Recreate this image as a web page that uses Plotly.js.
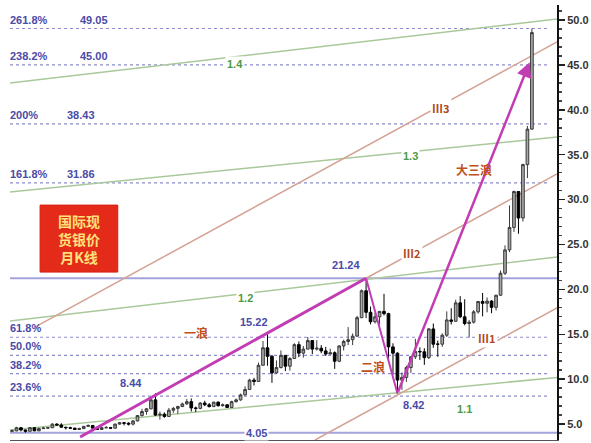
<!DOCTYPE html>
<html><head><meta charset="utf-8">
<script src="https://cdn.plot.ly/plotly-3.0.1.min.js"></script>
<style>html,body{margin:0;padding:0;background:#fff}#c{width:591px;height:443px}</style>
</head><body><div id="c"></div>
<script>
// Monthly candles (2001-08 .. 2011-04)
const months = ['2001-08','2001-09','2001-10','2001-11','2001-12',
'2002-01','2002-02','2002-03','2002-04','2002-05','2002-06','2002-07','2002-08','2002-09','2002-10','2002-11','2002-12',
'2003-01','2003-02','2003-03','2003-04','2003-05','2003-06','2003-07','2003-08','2003-09','2003-10','2003-11','2003-12',
'2004-01','2004-02','2004-03','2004-04','2004-05','2004-06','2004-07','2004-08','2004-09','2004-10','2004-11','2004-12',
'2005-01','2005-02','2005-03','2005-04','2005-05','2005-06','2005-07','2005-08','2005-09','2005-10','2005-11','2005-12',
'2006-01','2006-02','2006-03','2006-04','2006-05','2006-06','2006-07','2006-08','2006-09','2006-10','2006-11','2006-12',
'2007-01','2007-02','2007-03','2007-04','2007-05','2007-06','2007-07','2007-08','2007-09','2007-10','2007-11','2007-12',
'2008-01','2008-02','2008-03','2008-04','2008-05','2008-06','2008-07','2008-08','2008-09','2008-10','2008-11','2008-12',
'2009-01','2009-02','2009-03','2009-04','2009-05','2009-06','2009-07','2009-08','2009-09','2009-10','2009-11','2009-12',
'2010-01','2010-02','2010-03','2010-04','2010-05','2010-06','2010-07','2010-08','2010-09','2010-10','2010-11','2010-12',
'2011-01','2011-02','2011-03','2011-04'];
const openP = [4.20,4.25,4.60,4.35,4.20,
4.60,4.25,4.50,4.55,4.60,5.00,4.90,4.65,4.60,4.55,4.40,4.50,
4.75,4.85,4.55,4.40,4.60,4.60,4.55,5.00,5.15,5.10,5.00,5.35,
5.95,6.40,6.70,7.70,6.00,6.10,5.85,6.55,6.75,6.95,7.25,7.50,
6.80,6.75,7.35,7.15,6.95,7.45,7.05,7.15,6.85,7.50,7.70,8.25,
8.85,9.90,9.75,11.55,13.50,12.55,10.70,11.30,12.65,11.45,12.30,13.85,
12.90,13.35,14.30,13.35,13.45,13.15,12.80,12.95,12.00,13.70,14.20,14.40,
14.80,16.85,19.85,17.45,16.40,16.95,17.55,17.30,13.60,12.90,9.90,10.20,
11.30,12.50,13.10,13.05,12.40,15.60,13.90,13.90,14.90,16.60,16.45,18.50,
16.95,16.20,16.35,17.50,18.65,18.45,18.70,18.00,19.35,21.80,24.40,26.90,
30.90,27.95,33.90,37.85];
const highP = [4.40,4.70,4.65,4.40,4.65,
4.62,4.60,4.70,4.66,5.10,5.10,5.10,4.70,4.70,4.60,4.60,4.80,
4.95,4.90,4.65,4.75,4.80,4.65,5.05,5.25,5.25,5.20,5.45,5.95,
6.70,6.80,7.80,8.44,6.40,6.30,6.80,6.90,7.05,7.40,7.80,7.85,
6.95,7.45,7.60,7.35,7.45,7.50,7.30,7.20,7.60,7.85,8.40,9.20,
10.05,10.15,11.85,14.25,15.22,12.70,12.10,13.20,12.70,12.45,14.00,14.20,
13.70,14.70,14.35,14.35,13.80,13.60,13.40,13.10,13.80,14.40,15.80,15.10,
17.05,20.00,21.24,18.10,17.40,17.60,19.50,17.40,14.00,13.00,10.75,11.50,
12.50,14.50,13.55,13.45,15.70,16.20,14.30,15.10,17.55,17.90,18.85,19.25,
18.90,16.60,17.70,18.70,19.60,19.10,18.80,19.40,22.10,24.90,29.35,31.00,
30.90,34.00,38.20,49.05];
const lowP = [4.15,4.20,4.20,4.05,4.20,
4.22,4.20,4.45,4.50,4.55,4.85,4.60,4.40,4.45,4.35,4.35,4.45,
4.70,4.50,4.35,4.40,4.55,4.45,4.50,4.95,4.85,4.85,4.85,5.30,
5.85,6.05,6.65,5.90,5.50,5.70,5.80,6.25,6.15,6.90,7.15,6.40,
6.35,6.65,7.00,6.85,6.90,6.95,6.95,6.80,6.85,7.40,7.60,8.20,
8.80,9.30,9.70,11.50,11.50,9.60,10.60,11.20,10.90,10.95,12.25,12.45,
12.40,13.30,12.80,13.20,12.90,12.60,12.75,11.15,11.90,13.20,13.80,13.80,
14.70,16.80,16.80,16.10,16.20,16.10,17.10,12.20,10.50,8.42,8.80,9.70,
10.70,12.25,12.15,11.60,12.25,13.50,12.50,13.60,14.70,16.10,16.40,16.80,
16.00,14.65,16.20,17.30,17.00,17.45,17.35,17.65,19.30,21.60,24.15,26.40,
26.20,27.55,32.40,37.75];
const closeP = [4.25,4.60,4.35,4.20,4.60,
4.25,4.50,4.55,4.60,5.00,4.90,4.65,4.60,4.55,4.40,4.50,4.75,
4.85,4.55,4.40,4.60,4.60,4.55,5.00,5.15,5.10,5.00,5.35,5.95,
6.40,6.70,7.70,6.00,6.10,5.85,6.55,6.75,6.95,7.25,7.50,6.80,
6.75,7.35,7.15,6.95,7.45,7.05,7.15,6.85,7.50,7.70,8.25,8.85,
9.90,9.75,11.55,13.50,12.55,10.70,11.30,12.65,11.45,12.30,13.85,12.90,
13.35,14.30,13.35,13.45,13.15,12.80,12.95,12.00,13.70,14.20,14.40,14.80,
16.85,19.85,17.45,16.40,16.95,17.55,17.30,13.60,12.90,9.90,10.20,11.30,
12.50,13.10,13.05,12.40,15.60,13.90,13.90,14.90,16.60,16.45,18.50,16.95,
16.20,16.35,17.50,18.65,18.45,18.70,18.00,19.35,21.80,24.40,26.90,30.90,
27.95,33.90,37.85,48.60];

// Fibonacci levels
const waveLow = 4.05, waveHigh = 21.24;
const fibRatios = [2.618, 2.382, 2.0, 1.618, 0.618, 0.5, 0.382, 0.236];
const fibLabels = ['261.8%', '238.2%', '200%', '161.8%', '61.8%', '50.0%', '38.2%', '23.6%'];
const fibValueText = ['49.05', '45.00', '38.43', '31.86', '', '', '', ''];
const yTicks = [5, 10, 15, 20, 25, 30, 35, 40, 45, 50];
const yTickText = ['5.0','10.0','15.0','20.0','25.0','30.0','35.0','40.0','45.0','50.0'];

// channel lines [x0, y0, x1, y1] in data units
const greenLines = [[-0.45, 4.34, 121.6, 10.2], [-0.45, 16.48, 121.6, 23.6], [-0.45, 30.85, 121.6, 36.97], [-0.45, 42.98, 121.6, 50.1]];
const greenNames = ['1.1', '1.2', '1.3', '1.4'];
const greenLabelPos = [[101, 6.7], [52, 19.0], [89, 34.9], [49.8, 45.1]];
const brownLines = [[67.6, 3.23, 121.6, 17.93], [79, 21.24, 121.6, 32.85], [5.1, 15.8, 121.6, 47.55]];
const brownNames = ['Ⅲ1', 'Ⅲ2', 'Ⅲ3'];
const brownLabelPos = [[106, 14.6], [89.2, 24.0], [95.7, 40.2]];

const xIdx = months.map((m, i) => i);
const XR = [-0.45, 121.6];

const trace = {
  type: 'candlestick', x: xIdx, open: openP, high: highP, low: lowP, close: closeP,
  increasing: {line: {color: '#3a3a3a', width: 1}, fillcolor: '#a8a8a8'},
  decreasing: {line: {color: '#000000', width: 1}, fillcolor: '#000000'},
  whiskerwidth: 0, hoverinfo: 'skip', showlegend: false
};

const shapes = [];
const annotations = [];
const blue = '#4a4aa8';
const lblFont = {family: 'Liberation Sans, Arial', size: 11, color: blue, weight: 'bold'};

fibRatios.forEach((r, i) => {
  const lv = waveLow + r * (waveHigh - waveLow);
  shapes.push({type: 'line', xref: 'paper', x0: 0, x1: 0.985, yref: 'y', y0: lv, y1: lv,
    line: {color: '#8c8cd0', width: 1.2, dash: 'dot'}, layer: 'below'});
  annotations.push({xref: 'paper', yref: 'y', x: 0, y: lv, xanchor: 'left', yanchor: 'bottom',
    yshift: 1, xshift: -2, text: fibLabels[i], showarrow: false, font: lblFont});
  if (fibValueText[i]) {
    annotations.push({xref: 'paper', yref: 'y', x: i < 2 ? 0.124 : 0.1, y: lv, xanchor: 'left', yanchor: 'bottom',
      yshift: 1, text: fibValueText[i], showarrow: false, font: lblFont});
  }
});
[waveHigh, waveLow].forEach(v => {
  shapes.push({type: 'line', xref: 'paper', x0: 0, x1: 1, yref: 'y', y0: v, y1: v,
    line: {color: '#a4a4dc', width: 2}, layer: 'below'});
});

greenLines.forEach((l, i) => {
  shapes.push({type: 'line', x0: l[0], y0: l[1], x1: l[2], y1: l[3], line: {color: '#a9c99a', width: 1.5}, layer: 'below'});
  annotations.push({x: greenLabelPos[i][0], y: greenLabelPos[i][1], text: greenNames[i], showarrow: false,
    bgcolor: '#ffffff', font: {family: 'Liberation Sans, Arial', size: 11, color: '#4f9a45', weight: 'bold'}});
});
brownLines.forEach((l, i) => {
  shapes.push({type: 'line', x0: l[0], y0: l[1], x1: l[2], y1: l[3], line: {color: '#d4a292', width: 1.5}, layer: 'below'});
  annotations.push({x: brownLabelPos[i][0], y: brownLabelPos[i][1], text: brownNames[i], showarrow: false,
    bgcolor: '#ffffff', font: {family: 'Noto Sans CJK SC', size: 11, color: '#b04a1c', weight: 'bold'}});
});

// wave lines
const magenta = '#c23cb4';
shapes.push({type: 'line', x0: 15.2, y0: 3.56, x1: 79, y1: waveHigh, line: {color: magenta, width: 3}});
shapes.push({type: 'line', x0: 79, y0: waveHigh, x1: 86, y1: 8.42, line: {color: magenta, width: 2}});
annotations.push({x: 115.5, y: 45.3, ax: 86, ay: 8.42, axref: 'x', ayref: 'y', xref: 'x', yref: 'y', text: '',
  showarrow: true, arrowhead: 2, arrowsize: 1.2, arrowwidth: 2.5, arrowcolor: magenta});

const waveFont = {family: 'Noto Sans CJK SC', size: 12, color: '#c0501c', weight: 'bold'};
annotations.push({x: 41, y: 15.2, text: '一浪', showarrow: false, font: waveFont});
annotations.push({x: 80.6, y: 11.4, text: '二浪', showarrow: false, font: waveFont});
annotations.push({x: 103, y: 33.4, text: '大三浪', showarrow: false, font: waveFont});

const numFont = {family: 'Liberation Sans, Arial', size: 11, color: blue, weight: 'bold'};
annotations.push({x: 26.5, y: 8.44, text: '8.44', showarrow: false, yshift: 10, font: numFont});
annotations.push({x: 54, y: 15.22, text: '15.22', showarrow: false, yshift: 10, font: numFont});
annotations.push({x: 74.5, y: 21.24, text: '21.24', showarrow: false, yshift: 13, font: numFont});
annotations.push({x: 89.5, y: 8.42, text: '8.42', showarrow: false, yshift: -12, font: numFont});
annotations.push({x: 54.6, y: waveLow, text: '4.05', showarrow: false, bgcolor: '#ffffff', font: numFont});

// red title box
shapes.push({type: 'rect', xref: 'paper', yref: 'paper', x0: 0.055, x1: 0.197, y0: 0.386, y1: 0.54,
  fillcolor: '#e42a18', line: {color: '#d42010', width: 1}});
annotations.push({xref: 'paper', yref: 'paper', x: 0.126, y: 0.463, xanchor: 'center', yanchor: 'middle',
  text: '国际现<br>货银价<br>月K线', showarrow: false, align: 'center',
  font: {family: 'Noto Sans CJK SC', size: 14, color: '#ffe27a', weight: 'bold'}});

const layout = {
  width: 591, height: 443, margin: {l: 10, r: 34, t: 5, b: 3},
  paper_bgcolor: '#ffffff', plot_bgcolor: '#ffffff', showlegend: false, boxgap: 0.15,
  xaxis: {range: XR, showticklabels: false, showgrid: false, zeroline: false, rangeslider: {visible: false},
    showline: true, linecolor: '#555555', linewidth: 1, mirror: false, fixedrange: true},
  yaxis: {range: [3.23, 51.67], side: 'right', tickvals: yTicks, ticktext: yTickText, ticks: 'outside',
    ticklen: 6, tickwidth: 1.5, tickcolor: '#222', showline: true, linecolor: '#111', linewidth: 2,
    showgrid: false, zeroline: false,
    minor: {dtick: 1, ticks: 'outside', ticklen: 3, tickcolor: '#444', showgrid: false},
    tickfont: {family: 'Liberation Sans, Arial', size: 11, color: '#333', weight: 'bold'}},
  shapes: shapes, annotations: annotations
};
Plotly.newPlot('c', [trace], layout, {staticPlot: true, displayModeBar: false});
</script></body></html>
